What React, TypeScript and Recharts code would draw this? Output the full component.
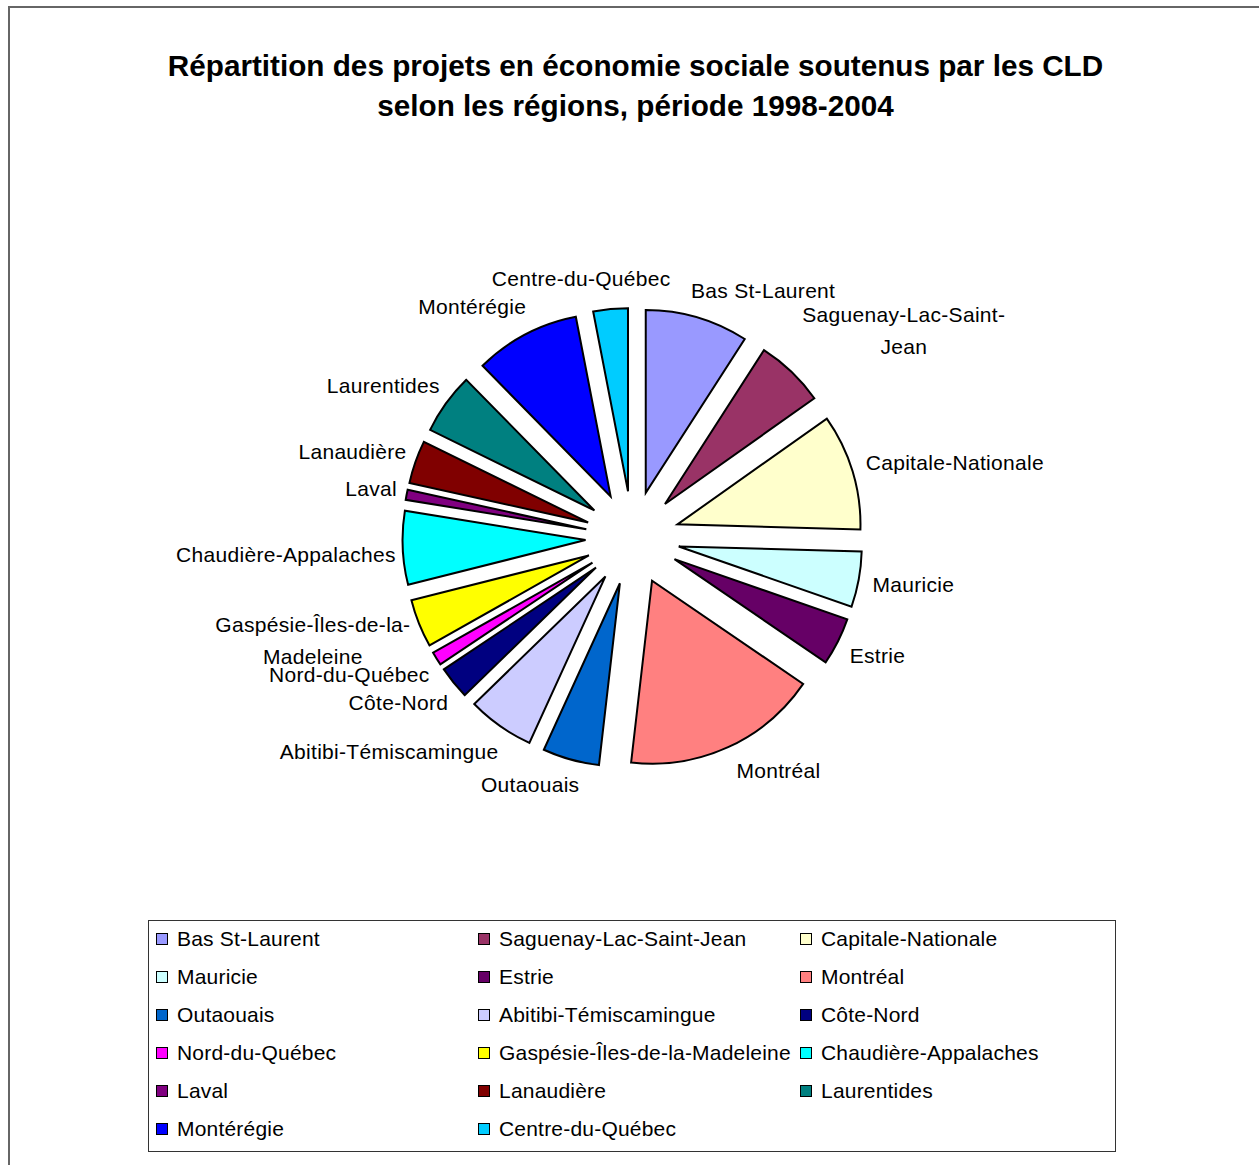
import React from "react";
import { PieChart, Pie, Sector, Legend } from "recharts";

// Régions (ordre du graphique, sens horaire depuis midi)
const REGIONS = [
  "Bas St-Laurent",
  "Saguenay-Lac-Saint-Jean",
  "Capitale-Nationale",
  "Mauricie",
  "Estrie",
  "Montréal",
  "Outaouais",
  "Abitibi-Témiscamingue",
  "Côte-Nord",
  "Nord-du-Québec",
  "Gaspésie-Îles-de-la-Madeleine",
  "Chaudière-Appalaches",
  "Laval",
  "Lanaudière",
  "Laurentides",
  "Montérégie",
  "Centre-du-Québec",
];

// Part des projets (%)
const VALUES = [9.1, 6.1, 10.25, 4.9, 4.2, 17.3, 5.0, 5.9, 2.9, 1.2, 4.25, 6.5, 0.9, 3.8, 5.4, 9.3, 3.05];

// Palette Excel
const COLORS = [
  "#9999FF", "#993366", "#FFFFCC", "#CCFFFF", "#660066", "#FF8080",
  "#0066CC", "#CCCCFF", "#000080", "#FF00FF", "#FFFF00", "#00FFFF",
  "#800080", "#800000", "#008080", "#0000FF", "#00CCFF",
];

const TITLE_LINES = [
  "Répartition des projets en économie sociale soutenus par les CLD",
  "selon les régions, période 1998-2004",
];

// étiquettes coupées sur deux lignes
const LABEL_LINES: Record<string, string[]> = {
  "Saguenay-Lac-Saint-Jean": ["Saguenay-Lac-Saint-", "Jean"],
  "Gaspésie-Îles-de-la-Madeleine": ["Gaspésie-Îles-de-la-", "Madeleine"],
};
// petits décalages (Excel a déplacé ces étiquettes)
const LABEL_NUDGE: Record<string, { dx: number; dy: number }> = {
  "Centre-du-Québec": { dx: 52, dy: 0 },
  "Bas St-Laurent": { dx: -6, dy: 3 },
  "Saguenay-Lac-Saint-Jean": { dx: 3, dy: -7 },
  "Montréal": { dx: 6, dy: -5 },
  "Outaouais": { dx: 4, dy: -5 },
  "Chaudière-Appalaches": { dx: 3, dy: 5 },
};

const data = REGIONS.map((name, i) => ({ name, value: VALUES[i] }));

const FONT = "'Liberation Sans', Arial, Helvetica, sans-serif";
const RAD = Math.PI / 180;
const EXPLODE = 47;
const LABEL_R = 250;
const LINE_H = 32;

let measureCtx: CanvasRenderingContext2D | null = null;
function textWidth(s: string) {
  if (!measureCtx) measureCtx = document.createElement("canvas").getContext("2d");
  if (!measureCtx) return s.length * 11;
  measureCtx.font = `21px ${FONT}`;
  return measureCtx.measureText(s).width + s.length * 0.3;
}

function renderSlice(props: any) {
  const { cx, cy, midAngle, startAngle, endAngle, outerRadius, index, name } = props;
  const cos = Math.cos(midAngle * RAD);
  const sin = Math.sin(midAngle * RAD);
  const ex = cx + EXPLODE * cos;
  const ey = cy - EXPLODE * sin;

  const lines = LABEL_LINES[name] || [name];
  const right = cos >= 0;
  const nudge = LABEL_NUDGE[name] || { dx: 0, dy: 0 };
  const px = cx + LABEL_R * cos + (right ? -6 : 10) + nudge.dx;
  const h = (lines.length - 1) * LINE_H + 22;
  const blockY = cy - LABEL_R * sin - (sin * h) / 2 + nudge.dy;
  const w = Math.max(...lines.map(textWidth));
  const midX = right ? px + w / 2 : px - w / 2;

  return (
    <g>
      <Sector
        cx={ex}
        cy={ey}
        innerRadius={0}
        outerRadius={outerRadius}
        startAngle={startAngle}
        endAngle={endAngle}
        fill={COLORS[index]}
        stroke="#000"
        strokeWidth={2}
      />
      {lines.map((line, k) => (
        <text
          key={k}
          x={lines.length > 1 ? midX : px}
          y={blockY - ((lines.length - 1) * LINE_H) / 2 + k * LINE_H}
          dy="0.35em"
          textAnchor={lines.length > 1 ? "middle" : right ? "start" : "end"}
          fontSize={21}
          fontFamily={FONT}
          letterSpacing={0.3}
          fill="#000"
        >
          {line}
        </text>
      ))}
    </g>
  );
}

function renderLegend(props: any) {
  // garder l'ordre des séries (pas l'ordre alphabétique)
  const payload = [...(props.payload || [])].sort(
    (a: any, b: any) => REGIONS.indexOf(a.value) - REGIONS.indexOf(b.value)
  );
  return (
    <div
      style={{
        position: "relative",
        width: 968,
        height: 232,
        border: "1px solid #333",
        boxSizing: "border-box",
        background: "#fff",
        fontFamily: FONT,
      }}
    >
      {payload.map((entry: any, i: number) => {
        const idx = REGIONS.indexOf(entry.value);
        const col = i % 3;
        const row = Math.floor(i / 3);
        const top = 18 + row * 38;
        return (
          <div key={i} style={{ position: "absolute", left: 7 + col * 322, top: top - 12, height: 24, display: "flex", alignItems: "center" }}>
            <span
              style={{
                display: "inline-block",
                width: 10,
                height: 10,
                border: "1px solid #000",
                background: COLORS[idx],
                marginRight: 9,
              }}
            />
            <span style={{ fontSize: 21, lineHeight: "24px", letterSpacing: 0.2, color: "#000", whiteSpace: "nowrap" }}>
              {entry.value}
            </span>
          </div>
        );
      })}
    </div>
  );
}

export default function App() {
  return (
    <div style={{ position: "absolute", left: 0, top: 0, width: 1259, height: 1165, overflow: "hidden", background: "#fff" }}>
      <div
        style={{
          position: "absolute",
          left: 8,
          top: 6,
          width: 1251,
          height: 1159,
          borderLeft: "2px solid #666",
          borderTop: "2px solid #666",
          boxSizing: "border-box",
        }}
      />
      {TITLE_LINES.map((t, i) => (
        <div
          key={i}
          style={{
            position: "absolute",
            left: 6,
            top: 46 + i * 40,
            width: 1259,
            lineHeight: "40px",
            textAlign: "center",
            fontFamily: FONT,
            fontWeight: "bold",
            fontSize: 29.7,
            color: "#000",
            whiteSpace: "nowrap",
          }}
        >
          {t}
        </div>
      ))}
      <div style={{ position: "absolute", left: 0, top: 0 }}>
        <PieChart width={1259} height={1165} margin={{ top: 0, right: 0, bottom: 0, left: 0 }}>
          <Pie
            data={data}
            dataKey="value"
            nameKey="name"
            cx={632.5}
            cy={538}
            innerRadius={0}
            outerRadius={183}
            startAngle={90}
            endAngle={-270}
            fill="none"
            stroke="none"
            label={renderSlice}
            labelLine={false}
            isAnimationActive={false}
          />
          <Legend
            content={renderLegend}
            width={968}
            height={232}
            wrapperStyle={{ position: "absolute", left: 148, top: 920, width: 968, height: 232 }}
          />
        </PieChart>
      </div>
    </div>
  );
}
